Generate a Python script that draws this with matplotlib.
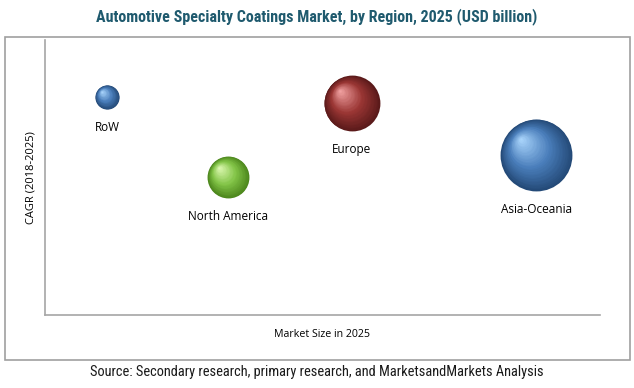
import matplotlib.pyplot as plt
import matplotlib.transforms as mtransforms
from matplotlib.patches import Rectangle
from matplotlib import font_manager
import numpy as np

# data (axes have no ticks, so positions are relative)
regions = ["RoW", "North America", "Europe", "Asia-Oceania"]
market_pos = [1.12, 3.30, 5.53, 8.85]      # x: market size position
cagr_pos = [7.93, 5.02, 7.71, 5.82]        # y: CAGR position
bubble_size = [0.6, 1.8, 3.2, 5.3]         # bubble area (relative)

colors_dark = ["#244a78", "#4c861c", "#5a1a1a", "#244a78"]
colors_mid = ["#4a7ebb", "#82c447", "#9a3634", "#4a7ebb"]
colors_light = ["#a9d4fb", "#dcf8b0", "#f0a0a0", "#a9d4fb"]

# look for a condensed face
narrow = "DejaVu Sans"
names = {f.name for f in font_manager.fontManager.ttflist}
for cand in ["Liberation Sans Narrow", "Roboto Condensed", "Open Sans Condensed", "DejaVu Sans Condensed"]:
    if cand in names:
        narrow = cand
        break

fig = plt.figure(figsize=(6.34, 3.88), dpi=100)
fig.patch.set_facecolor("white")

# outer frame
fig.patches.append(Rectangle((5/634, 1-360/388), 625/634, 323/388, transform=fig.transFigure,
                             fill=False, edgecolor="#a0a0a0", linewidth=1.2))

ax = fig.add_axes([45/634, 1-315/388, 555/634, 275/388])
ax.set_xlim(0, 10)
ax.set_ylim(0, 10)
for s in ["top", "right"]:
    ax.spines[s].set_visible(False)
for s in ["left", "bottom"]:
    ax.spines[s].set_color("#a6a6a6")
    ax.spines[s].set_linewidth(1.2)
ax.set_xticks([])
ax.set_yticks([])

def blend(c1, c2, t):
    a = np.array(plt.matplotlib.colors.to_rgb(c1))
    b = np.array(plt.matplotlib.colors.to_rgb(c2))
    return a + (b - a) * t

scale = 505
n = 30
for i in range(len(regions)):
    s0 = bubble_size[i] * scale
    r_pt = np.sqrt(s0) / 2
    for k in range(n):
        f = 1 - k / n
        t = k / (n - 1)
        if t < 0.45:
            col = blend(colors_dark[i], colors_mid[i], t / 0.45)
        else:
            col = blend(colors_mid[i], colors_light[i], (t - 0.45) / 0.55)
        off = (1 - f) * r_pt * 0.45
        tr = mtransforms.offset_copy(ax.transData, fig=fig, x=-off / 72, y=off / 72, units="inches")
        ax.scatter([market_pos[i]], [cagr_pos[i]], s=s0 * f * f, color=col,
                   linewidths=0, transform=tr, zorder=3 + k * 0.01)
    ax.annotate(regions[i], (market_pos[i], cagr_pos[i]), xytext=(0, -r_pt - 13.5),
                textcoords="offset points", ha="center", va="center",
                fontsize=8.5, family="Open Sans", color="#000000")

ax.set_xlabel("Market Size in 2025", fontsize=7.7, family="Open Sans", labelpad=10, color="#000000")
ax.set_ylabel("CAGR (2018-2025)", fontsize=8, family="Open Sans", labelpad=6, color="#000000")

fig.text(0.5, 1 - 17/388, "Automotive Specialty Coatings Market, by Region, 2025 (USD billion)",
         ha="center", va="center", fontsize=11.5, fontweight="bold", color="#1f5a6e",
         family=narrow, fontstretch="condensed")
fig.text(0.5, 1 - 372/388, "Source: Secondary research, primary research, and MarketsandMarkets Analysis",
         ha="center", va="center", fontsize=10.4, color="#1a1a1a",
         family=narrow, fontstretch="condensed")

fig.savefig("out.png", dpi=100)
